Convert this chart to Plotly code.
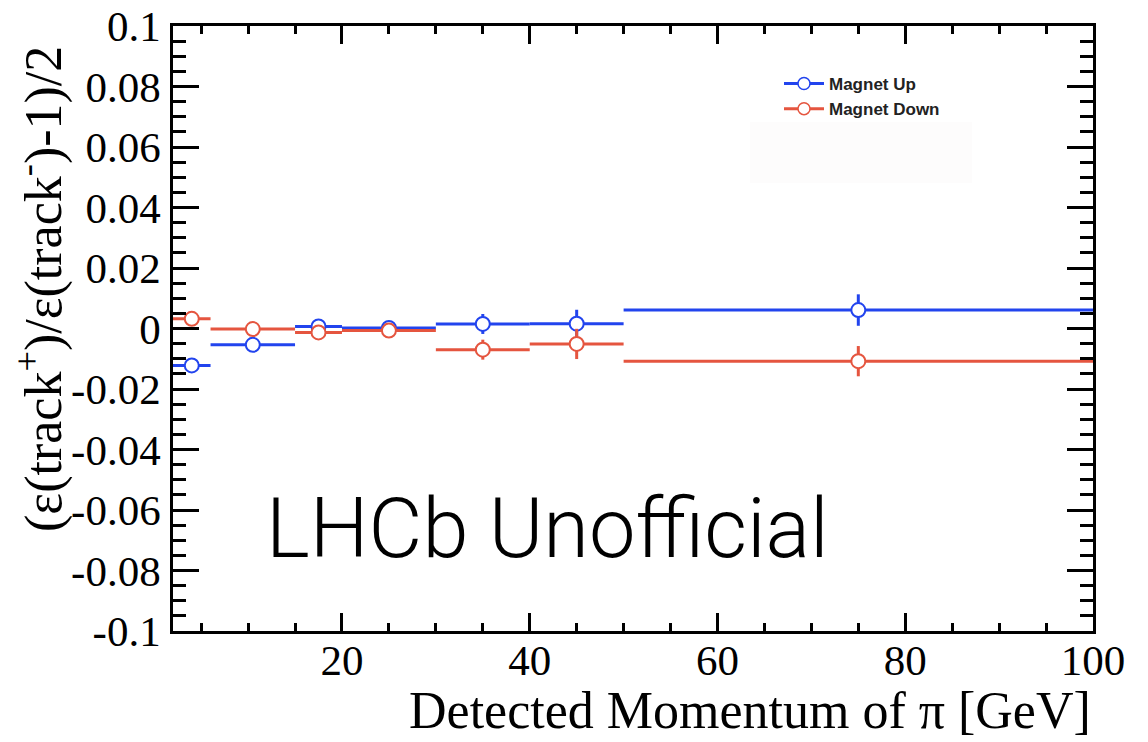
import plotly.graph_objects as go

# ---- data ----
bin_lo = [2, 6, 15, 20, 30, 40, 50]
bin_hi = [6, 15, 20, 30, 40, 50, 100]
up_val = [-0.0122, -0.0054, 0.0007, 0.0002, 0.0015, 0.0016, 0.0061]
up_err = [0.0015, 0.0015, 0.0015, 0.0015, 0.0033, 0.0046, 0.0052]
down_val = [0.0032, -0.0002, -0.0013, -0.0007, -0.0070, -0.0051, -0.0108]
down_err = [0.0015, 0.0015, 0.0015, 0.0015, 0.0033, 0.0050, 0.0050]
series_names = ["Magnet Up", "Magnet Down"]
x_ticks = [20, 40, 60, 80, 100]
y_ticks = [-0.1, -0.08, -0.06, -0.04, -0.02, 0, 0.02, 0.04, 0.06, 0.08, 0.1]
y_tick_text = ["-0.1", "-0.08", "-0.06", "-0.04", "-0.02", "0", "0.02", "0.04", "0.06", "0.08", "0.1"]

centers = [(a + b) / 2 for a, b in zip(bin_lo, bin_hi)]
halfw = [(b - a) / 2 for a, b in zip(bin_lo, bin_hi)]

BLUE = "#2244ee"
RED = "#e5553f"
SERIF = "Liberation Serif, Times New Roman, serif"

# page body margin offset (the page is rendered 8px in from the top-left)
OFF = 8
W, H = 1148 - OFF, 742 - OFF
L, R, T, B = 173 - OFF, 1093 - OFF, 26 - OFF, 631 - OFF
PW, PH = R - L, B - T


def px(xr):
    return (xr - OFF - L) / PW


def py(yr):
    return (B - (yr - OFF)) / PH


fig = go.Figure()
for name, vals, errs, col in [(series_names[0], up_val, up_err, BLUE),
                              (series_names[1], down_val, down_err, RED)]:
    fig.add_trace(go.Scatter(
        x=centers, y=vals, name=name, mode="markers", showlegend=False,
        marker=dict(symbol="circle", size=14, color="white",
                    line=dict(color=col, width=2)),
        error_x=dict(type="data", array=halfw, color=col, thickness=3, width=0),
        error_y=dict(type="data", array=errs, color=col, thickness=3, width=0),
    ))
for name, col in [(series_names[0], BLUE), (series_names[1], RED)]:
    fig.add_trace(go.Scatter(
        x=[None], y=[None], name=name, mode="lines+markers",
        line=dict(color=col, width=3),
        marker=dict(symbol="circle", size=12, color="white",
                    line=dict(color=col, width=1.5)),
    ))

axis_common = dict(
    showline=True, linecolor="black", linewidth=2.5, mirror="ticks",
    ticks="inside", tickcolor="black", tickwidth=2.5,
    showgrid=False, zeroline=False, automargin=False,
    ticklabeloverflow="allow",
    tickfont=dict(family=SERIF, size=43, color="black"),
)
fig.update_xaxes(range=[2, 100], tickmode="array", tickvals=x_ticks, ticklen=18,
                 ticklabelstandoff=-10,
                 minor=dict(ticks="inside", tickmode="linear", tick0=0, dtick=5,
                            ticklen=8, tickwidth=2.5, tickcolor="black"),
                 **axis_common)
fig.update_yaxes(range=[-0.1, 0.1], tickmode="array", tickvals=y_ticks,
                 ticktext=y_tick_text, ticklen=26, ticklabelstandoff=1,
                 minor=dict(ticks="inside", tickmode="linear", tick0=0, dtick=0.005,
                            ticklen=13, tickwidth=2.5, tickcolor="black"),
                 **axis_common)

# faint legend pad area
fig.add_shape(type="rect", xref="paper", yref="paper",
              x0=px(750), x1=px(972), y0=py(183), y1=py(122),
              fillcolor="#fdfcfc", line_width=0, layer="below")

fig.add_annotation(text="Detected Momentum of π [GeV]", xref="paper", yref="paper",
                   x=px(1093), y=py(710), xanchor="right", yanchor="middle",
                   showarrow=False, font=dict(family=SERIF, size=52, color="black"))
fig.add_annotation(text="(ε(track<sup>+</sup>)/ε(track<sup>-</sup>)-1)/2",
                   xref="paper", yref="paper", x=px(40), y=py(44),
                   xanchor="center", yanchor="top", textangle=-90, showarrow=False,
                   font=dict(family=SERIF, size=52, color="black"))
fig.add_annotation(text="LHCb Unofficial", xref="paper", yref="paper",
                   x=px(264), y=py(528), xanchor="left",
                   yanchor="middle", showarrow=False,
                   font=dict(family="Roboto, Inter, Liberation Sans, sans-serif", size=83,
                             color="black", weight=300))

fig.update_layout(
    width=W, height=H,
    margin=dict(l=L, r=W - R, t=T, b=H - B, autoexpand=False),
    paper_bgcolor="white", plot_bgcolor="white",
    showlegend=True,
    legend=dict(x=px(779), y=py(66), xanchor="left", yanchor="top",
                bgcolor="rgba(0,0,0,0)", borderwidth=0, itemwidth=40,
                font=dict(family="Liberation Sans, Arial, sans-serif", size=17,
                          color="#222", weight="bold"),
                tracegroupgap=0),
)

fig.write_html("out.html")
